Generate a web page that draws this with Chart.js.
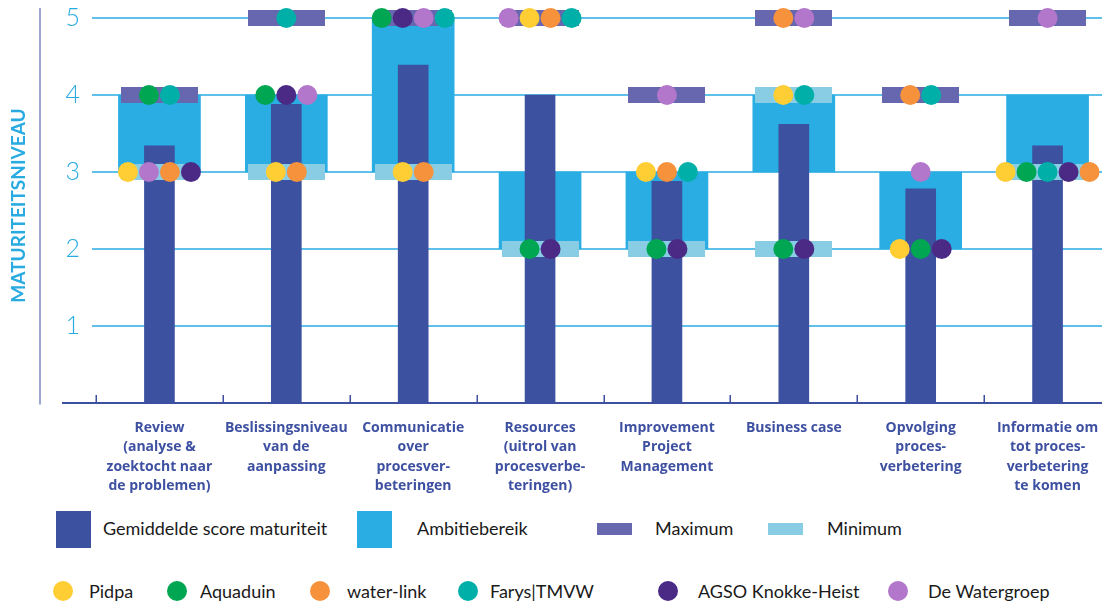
<!DOCTYPE html>
<html>
<head>
<meta charset="utf-8">
<script src="https://cdn.jsdelivr.net/npm/chart.js@4.4.1/dist/chart.umd.min.js"></script>
<style>
  html, body { margin: 0; padding: 0; background: #fff; overflow: hidden; }
  #wrap { position: relative; width: 1102px; height: 604px; overflow: hidden; background: #fff; }
  #chart { position: absolute; left: 0; top: 0; width: 1112px; height: 500px; }
  .lg { position: absolute; font-family: 'Lato', sans-serif; font-size: 18px; color: #1a1a1a; white-space: nowrap; line-height: 20px; }
  .sw { position: absolute; }
</style>
</head>
<body>
<div id="wrap">
  <canvas id="chart" width="1112" height="500"></canvas>
  <div id="legend"></div>
</div>
<script>
// ---- data ----
const categories = [
  ['Review', '(analyse &', 'zoektocht naar', 'de problemen)'],
  ['Beslissingsniveau', 'van de', 'aanpassing'],
  ['Communicatie', 'over', 'procesver-', 'beteringen'],
  ['Resources', '(uitrol van', 'procesverbe-', 'teringen)'],
  ['Improvement', 'Project', 'Management'],
  ['Business case'],
  ['Opvolging', 'proces-', 'verbetering'],
  ['Informatie om', 'tot proces-', 'verbetering', 'te komen']
];
const averageScore  = [3.34, 3.88, 4.39, 4.0, 2.88, 3.62, 2.78, 3.34];
const ambitionLow   = [3, 3, 3, 2, 2, 3, 2, 3];
const ambitionHigh  = [4, 4, 5, 3, 3, 4, 3, 4];
const maximumScore  = [4, 5, 5, 5, 4, 5, 4, 5];
const minimumScore  = [[3], [3], [3], [2], [2], [4, 2], [], [3]];
const yTickValues   = [1, 2, 3, 4, 5];

const organisations = ['Pidpa', 'Aquaduin', 'water-link', 'Farys|TMVW', 'AGSO Knokke-Heist', 'De Watergroep'];
const pidpa       = [3, 3, 3, 5, 3, 4, 2, 3];
const aquaduin    = [4, 4, 5, 2, 2, 2, 2, 3];
const waterLink   = [3, 3, 3, 5, 3, 5, 4, 3];
const farys       = [4, 5, 5, 5, 3, 4, 4, 3];
const agso        = [3, 4, 5, 2, 2, 2, 2, 3];
const watergroep  = [3, 4, 5, 5, 4, 5, 3, 5];
const orgScores = [pidpa, aquaduin, waterLink, farys, agso, watergroep];

// ---- styling ----
const orgColors = ['#ffcd34', '#00a651', '#f6913c', '#00b0a8', '#4b2a85', '#b276cb'];
const C_AVG = '#3d51a1', C_AMB = '#29ade3', C_MAX = '#6767af', C_MIN = '#88cde3';
const C_TICK = '#29abe2', C_GRID = '#5fc0ea', C_AXIS = '#3d4fa0', C_LABEL = '#3e50a1';

// ---- layout ----
const CANVAS_W = 1112, CANVAS_H = 500;
const PLOT_LEFT = 96, PLOT_RIGHT = 1111, PLOT_TOP = 8, PLOT_BOTTOM = 403;
const CATEGORY_PX = (PLOT_RIGHT - PLOT_LEFT) / categories.length;
const DOT_GAP_PX = 21;
// left-to-right order of the dots that share a score within one category
const swarmOrder = [
  [0, 5, 2, 4, 1, 3],
  [0, 1, 2, 3, 4, 5],
  [0, 1, 2, 4, 5, 3],
  [5, 0, 1, 2, 3, 4],
  [0, 1, 2, 3, 4, 5],
  [0, 1, 2, 3, 4, 5],
  [0, 1, 2, 3, 4, 5],
  [0, 1, 3, 4, 2, 5]
];

// horizontal offset (in category units) of every organisation's dot
function dotOffsets() {
  const off = orgScores.map(() => new Array(categories.length).fill(0));
  categories.forEach((_, c) => {
    const groups = {};
    swarmOrder[c].forEach(o => {
      const v = orgScores[o][c];
      if (v == null) return;
      (groups[v] = groups[v] || []).push(o);
    });
    Object.values(groups).forEach(list => {
      list.forEach((o, k) => {
        off[o][c] = ((k - (list.length - 1) / 2) * DOT_GAP_PX) / CATEGORY_PX;
      });
    });
  });
  return off;
}
const offsets = dotOffsets();

function markerImage(color, w, h) {
  const cv = document.createElement('canvas');
  cv.width = w; cv.height = h;
  const g = cv.getContext('2d');
  g.fillStyle = color;
  g.fillRect(0, 0, w, h);
  return cv;
}
const maxMarker = markerImage(C_MAX, 77, 16);
const minMarker = markerImage(C_MIN, 77, 16);

const orgDatasets = organisations.map((name, o) => ({
  type: 'line',
  label: name,
  xAxisID: 'xs',
  data: orgScores[o].map((v, c) => ({ x: c + offsets[o][c], y: v })),
  showLine: false,
  pointRadius: 10,
  pointHoverRadius: 10,
  pointBorderWidth: 0,
  pointBackgroundColor: orgColors[o],
  borderColor: orgColors[o],
  order: 1
}));

const datasets = [
  ...orgDatasets,
  {
    type: 'line', label: 'Maximum', xAxisID: 'xs', showLine: false,
    data: maximumScore.map((v, c) => ({ x: c, y: v })),
    pointStyle: maxMarker, pointRadius: 8, pointHoverRadius: 8, order: 2
  },
  {
    type: 'line', label: 'Minimum', xAxisID: 'xs', showLine: false,
    data: minimumScore.flatMap((vs, c) => vs.map(v => ({ x: c, y: v }))),
    pointStyle: minMarker, pointRadius: 8, pointHoverRadius: 8, order: 2
  },
  {
    type: 'bar', label: 'Gemiddelde score maturiteit', data: averageScore,
    backgroundColor: C_AVG, barThickness: 30, grouped: false, order: 3
  },
  {
    type: 'bar', label: 'Ambitiebereik', data: ambitionLow.map((lo, c) => [lo, ambitionHigh[c]]),
    backgroundColor: C_AMB, barThickness: 82, grouped: false, order: 4
  }
];

// axis lines: thin vertical rule on the left, baseline with upward boundary ticks
const axisLines = {
  id: 'axisLines',
  afterDatasetsDraw(chart) {
    const { ctx, chartArea, scales: { x, y } } = chart;
    const y0 = y.getPixelForValue(0);
    ctx.save();
    ctx.strokeStyle = '#7d88c4';
    ctx.lineWidth = 1.5;
    ctx.beginPath();
    ctx.moveTo(40, chartArea.top);
    ctx.lineTo(40, y0 + 1.5);
    ctx.stroke();
    ctx.strokeStyle = C_AXIS;
    ctx.lineWidth = 2;
    ctx.beginPath();
    ctx.moveTo(62, y0);
    ctx.lineTo(chart.width, y0);
    ctx.stroke();
    const half = (x.getPixelForValue(1) - x.getPixelForValue(0)) / 2;
    ctx.lineWidth = 1.5;
    for (let i = 0; i < categories.length; i++) {
      const px = Math.round(x.getPixelForValue(i) - half) + 0.25;
      ctx.beginPath();
      ctx.moveTo(px, y0 - 8);
      ctx.lineTo(px, y0);
      ctx.stroke();
    }
    ctx.restore();
  }
};

Chart.defaults.font.family = 'Lato';

new Chart(document.getElementById('chart'), {
  type: 'bar',
  data: { labels: categories, datasets },
  options: {
    responsive: false,
    maintainAspectRatio: false,
    animation: false,
    events: [],
    layout: {
      autoPadding: false,
      padding: { top: PLOT_TOP, left: 0, right: CANVAS_W - PLOT_RIGHT, bottom: 0 }
    },
    plugins: { legend: { display: false }, tooltip: { enabled: false } },
    scales: {
      x: {
        type: 'category',
        offset: true,
        grid: { display: false, drawTicks: false },
        border: { display: false },
        ticks: {
          color: C_LABEL, autoSkip: false, maxRotation: 0, minRotation: 0, padding: 15,
          font: { family: 'Open Sans', size: 14, weight: 'bold', lineHeight: 1.39 }
        },
        afterFit(scale) {
          scale.height = CANVAS_H - PLOT_BOTTOM;
          scale.paddingLeft = 0; scale.paddingRight = 0;
        }
      },
      xs: { type: 'linear', display: false, offset: false, min: -0.5, max: categories.length - 0.5 },
      y: {
        min: 0, max: 5.13,
        grid: { color: C_GRID, lineWidth: 2, drawTicks: true, tickLength: 4, tickColor: C_GRID },
        border: { display: false },
        afterBuildTicks(scale) { scale.ticks = yTickValues.map(v => ({ value: v })); },
        ticks: {
          color: C_TICK, padding: 12,
          font: { family: 'Lato', size: 25, weight: '300' }
        },
        title: {
          display: true, text: 'MATURITEITSNIVEAU', color: C_TICK,
          padding: { top: 7, bottom: 0 },
          font: { family: 'Lato', size: 19, weight: 'bold', lineHeight: 1.2 }
        },
        afterFit(scale) {
          scale.width = PLOT_LEFT;
          scale.paddingTop = 0; scale.paddingBottom = 0;
        }
      }
    }
  },
  plugins: [axisLines]
});

// ---- legend ----
const legend = document.getElementById('legend');
function add(html) { legend.insertAdjacentHTML('beforeend', html); }

const barLegend = [
  { label: 'Gemiddelde score maturiteit', color: C_AVG, kind: 'square' },
  { label: 'Ambitiebereik', color: C_AMB, kind: 'square' },
  { label: 'Maximum', color: C_MAX, kind: 'dash' },
  { label: 'Minimum', color: C_MIN, kind: 'dash' }
];
const barLegendPos = [[56, 103], [357, 417], [597, 655], [768, 827]];
barLegend.forEach((item, i) => {
  const [sx, tx] = barLegendPos[i];
  if (item.kind === 'square') {
    add(`<div class="sw" style="left:${sx}px;top:511px;width:35px;height:37px;background:${item.color}"></div>`);
  } else {
    add(`<div class="sw" style="left:${sx}px;top:523px;width:35px;height:12px;background:${item.color}"></div>`);
  }
  add(`<div class="lg" style="left:${tx}px;top:518px">${item.label}</div>`);
});

const orgLegendPos = [[63, 89], [177, 200], [320, 347], [468, 490], [668, 698], [898, 928]];
organisations.forEach((name, o) => {
  const [cx, tx] = orgLegendPos[o];
  add(`<div class="sw" style="left:${cx - 10}px;top:581px;width:20px;height:20px;border-radius:50%;background:${orgColors[o]}"></div>`);
  add(`<div class="lg" style="left:${tx}px;top:581px">${name}</div>`);
});
</script>
</body>
</html>
